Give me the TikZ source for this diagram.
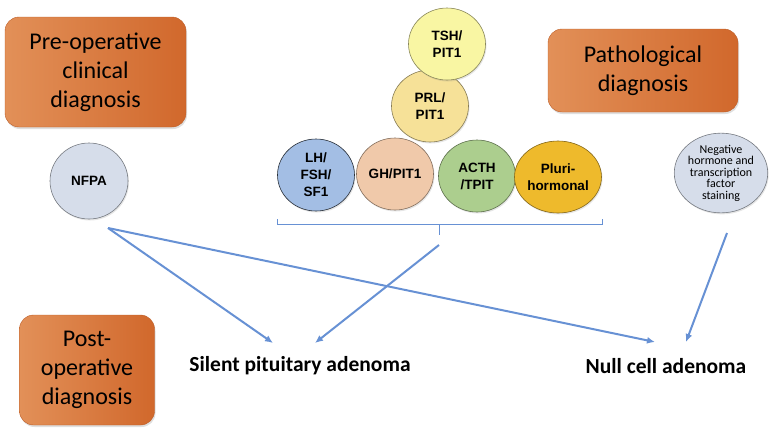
\documentclass[tikz,border=0pt]{standalone}
\usepackage{fontspec}
\setmainfont{Carlito}
\newfontfamily\arl{Liberation Sans}
\usepackage{tikz}
\usetikzlibrary{arrows.meta,shapes.geometric,shadows}

\definecolor{boxL}{RGB}{226,144,88}
\definecolor{boxR}{RGB}{209,104,44}
\definecolor{arr}{RGB}{103,145,212}
\definecolor{tshC}{RGB}{249,246,163}
\definecolor{prlC}{RGB}{246,225,152}
\definecolor{lhC}{RGB}{163,190,228}
\definecolor{ghC}{RGB}{240,201,170}
\definecolor{acthC}{RGB}{172,206,142}
\definecolor{pluriC}{RGB}{238,186,44}
\definecolor{nfC}{RGB}{214,221,234}

\begin{document}
\begin{tikzpicture}[x=1pt,y=-1pt,
  diag/.style={rounded corners=14pt,left color=boxL,right color=boxR,draw=boxR!90!black,
    align=center,font=\fontsize{24}{29}\selectfont,
    drop shadow={opacity=0.25,shadow xshift=1pt,shadow yshift=-2pt}},
  hc/.style={ellipse,fill=#1,draw=#1!55!black,line width=0.6pt,inner sep=0pt,
    minimum width=77pt,minimum height=72pt,align=center,
    font=\arl\bfseries\fontsize{13.5}{17}\selectfont,
    drop shadow={opacity=0.2,shadow xshift=1pt,shadow yshift=-1.5pt}},
  res/.style={font=\bfseries\fontsize{21.5}{24}\selectfont},
  link/.style={draw=arr,line width=2pt,-{Latex[length=8pt,width=7pt]}},
  brace/.style={draw=arr,line width=1pt}]
  \useasboundingbox (0,0) rectangle (772,432);

  \node[diag,minimum width=181pt,minimum height=110pt] (preop) at (95.5,72) {Pre-operative\\clinical\\diagnosis};
  \node[diag,minimum width=190pt,minimum height=83pt] (patho) at (643,70.5) {Pathological\\diagnosis};
  \node[diag,minimum width=135pt,minimum height=110pt] (postop) at (87,370) {Post-\\operative\\diagnosis};

  \node[hc=lhC,draw=lhC!25!black] (lh) at (316,175) {LH/\\FSH/\\SF1};
  \node[hc=ghC] (gh) at (395,174) {GH/PIT1};
  \node[hc=acthC] (acth) at (477,176) {ACTH\\/TPIT};
  \node[hc=pluriC] (pluri) at (558,177) {Pluri-\\hormonal};
  \node[hc=prlC] (prl) at (430,106) {PRL/\\PIT1};
  \node[hc=tshC] (tsh) at (447,44) {TSH/\\PIT1};

  \node[hc=nfC,minimum width=78pt,minimum height=76pt] (nfpa) at (89,181) {NFPA};
  \node[hc=nfC,minimum width=72pt,minimum height=68pt,font=\fontsize{12}{11.5}\selectfont] (neg) at (721,173) {Negative\\hormone and\\transcription\\factor\\staining};

  \node[res] (silent) at (300,366) {Silent pituitary adenoma};
  \node[res] (null) at (666,366) {Null cell adenoma};

  \draw[brace] (277,219) -- (277,224) -- (602,224) -- (602,219);
  \draw[brace] (439,224) -- (439,235);

  \coordinate (nfout) at (108,228);
  \coordinate (brout) at (439,245);
  \coordinate (negout) at (727,233);
  \coordinate (silA) at (273,343);
  \coordinate (silB) at (315,343);
  \coordinate (nullA) at (655,342);
  \coordinate (nullB) at (686,342);

  \draw[link] (nfout) -- (silA);
  \draw[link] (nfout) -- (nullA);
  \draw[link] (brout) -- (silB);
  \draw[link] (negout) -- (nullB);
\end{tikzpicture}
\end{document}
